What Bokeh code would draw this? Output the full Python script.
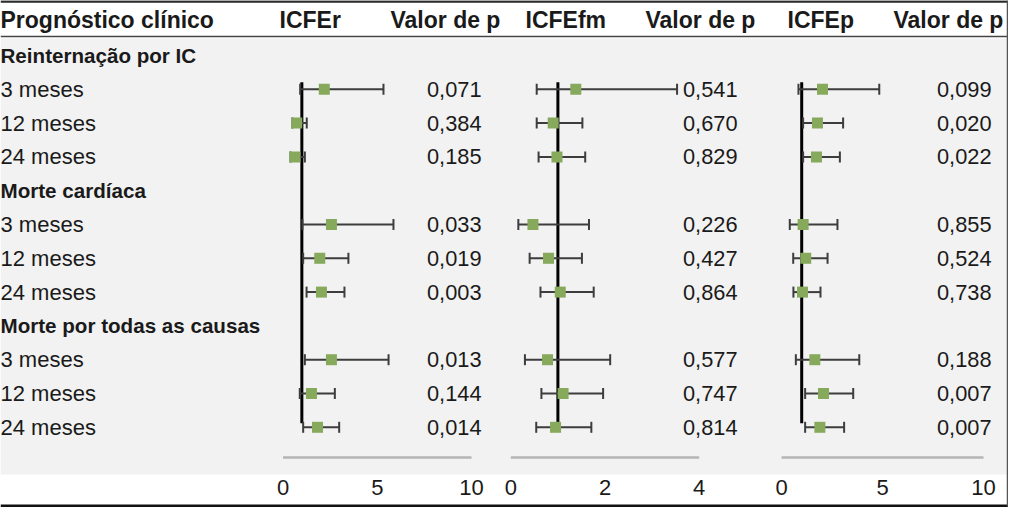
from bokeh.plotting import figure
from bokeh.models import Range1d, ColumnDataSource
from bokeh.embed import file_html
from bokeh.resources import INLINE
from bokeh.core.properties import value

# ---------------- data ----------------
header_label = "Prognóstico clínico"
pvalue_header = "Valor de p"
groups = ["Reinternação por IC", "Morte cardíaca", "Morte por todas as causas"]
periods = ["3 meses", "12 meses", "24 meses"]

panel_names = ["ICFEr", "ICFEfm", "ICFEp"]

icfer_est = [2.19, 0.73, 0.63, 2.57, 1.95, 2.04, 2.57, 1.51, 1.83]
icfer_low = [0.91, 0.50, 0.40, 1.03, 1.07, 1.25, 1.16, 0.89, 1.07]
icfer_high = [5.33, 1.26, 1.16, 5.86, 3.47, 3.26, 5.60, 2.75, 2.98]
icfer_p = ["0,071", "0,384", "0,185", "0,033", "0,019", "0,003", "0,013", "0,144", "0,014"]
icfer_ticks = [0, 5, 10]

icfefm_est = [1.38, 0.90, 0.98, 0.47, 0.80, 1.05, 0.78, 1.11, 0.95]
icfefm_low = [0.55, 0.55, 0.59, 0.16, 0.40, 0.63, 0.30, 0.65, 0.54]
icfefm_high = [3.53, 1.52, 1.58, 1.66, 1.51, 1.76, 2.11, 1.96, 1.71]
icfefm_p = ["0,541", "0,670", "0,829", "0,226", "0,427", "0,864", "0,577", "0,747", "0,814"]
icfefm_ticks = [0, 2, 4]

icfep_est = [2.03, 1.78, 1.73, 1.07, 1.20, 1.04, 1.65, 2.08, 1.90]
icfep_low = [0.84, 1.07, 1.07, 0.41, 0.58, 0.59, 0.71, 1.17, 1.17]
icfep_high = [4.84, 3.05, 2.89, 2.77, 2.28, 1.93, 3.85, 3.55, 3.10]
icfep_p = ["0,099", "0,020", "0,022", "0,855", "0,524", "0,738", "0,188", "0,007", "0,007"]
icfep_ticks = [0, 5, 10]

null_value = 1

# ---------------- layout / style ----------------
FONT = "Liberation Sans"
GREEN = "#86a95c"
WHISKER = "#3d3d3d"
TEXT = "#1a1a1a"
W, H = 1008, 507
X0, X1 = 8, 1016          # page-pixel coordinates of the figure
Y_TOP, Y_BOT = 8, 515

ROW0 = 63.0
ROW_H = 33.8
HEADER_Y = 27
TICK_Y = 495
AXLINE_Y = 465

HEAD_FS = "23px"
GROUP_FS = "20.6px"
ROW_FS = "22px"
PV_FS = "21.8px"
TICK_FS = "22px"

p = figure(width=W, height=H, output_backend="svg", toolbar_location=None,
           x_range=Range1d(X0, X1), y_range=Range1d(Y_BOT, Y_TOP),
           min_border=0, min_border_left=0, min_border_right=0,
           min_border_top=0, min_border_bottom=0)
p.xaxis.visible = False
p.yaxis.visible = False
p.grid.visible = False
p.outline_line_color = None
p.background_fill_color = "white"
p.border_fill_color = "white"

# light grey body background
p.quad(left=[X0], right=[1015], top=[46], bottom=[482], fill_color="#f2f2f2", line_color=None)

# rules
p.segment(x0=[X0], x1=[1016], y0=[9], y1=[9], line_color="#2a2a2a", line_width=2.4)
p.segment(x0=[X0], x1=[1016], y0=[44], y1=[44], line_color="#444444", line_width=1.6)
p.segment(x0=[X0], x1=[1016], y0=[513.5], y1=[513.5], line_color="#111111", line_width=2.8)
p.segment(x0=[1015], x1=[1015], y0=[8], y1=[514], line_color="#555555", line_width=1.5)

# row positions
item_y = []
group_y = []
for g in range(len(groups)):
    group_y.append(ROW0 + ROW_H * (g * 4))
    for j in range(len(periods)):
        item_y.append(ROW0 + ROW_H * (g * 4 + 1 + j))

item_labels = [per for g in groups for per in periods]

# header texts
p.text(x=[X0], y=[HEADER_Y], text=[header_label], text_font=value(FONT),
       text_font_size=HEAD_FS, text_font_style="bold", text_baseline="middle",
       text_align="left", text_color=TEXT)
p.text(x=[X0] * len(groups), y=group_y, text=groups, text_font=value(FONT),
       text_font_size=GROUP_FS, text_font_style="bold", text_baseline="middle",
       text_align="left", text_color=TEXT)
p.text(x=[X0] * len(item_labels), y=item_y, text=item_labels, text_font=value(FONT),
       text_font_size=ROW_FS, text_baseline="middle", text_align="left",
       text_color=TEXT)

panels = [
    dict(name="r", title=panel_names[0], est=icfer_est, low=icfer_low, high=icfer_high,
         pv=icfer_p, ticks=icfer_ticks, zero=290.5, unit=18.85, p_right=489,
         title_x=287, ptitle_x=398),
    dict(name="fm", title=panel_names[1], est=icfefm_est, low=icfefm_low, high=icfefm_high,
         pv=icfefm_p, ticks=icfefm_ticks, zero=518.3, unit=47.1, p_right=745,
         title_x=533, ptitle_x=653),
    dict(name="p", title=panel_names[2], est=icfep_est, low=icfep_low, high=icfep_high,
         pv=icfep_p, ticks=icfep_ticks, zero=789.0, unit=20.2, p_right=999,
         title_x=795, ptitle_x=901),
]

for pn in panels:
    z, u = pn["zero"], pn["unit"]
    p.extra_x_ranges[pn["name"]] = Range1d((X0 - z) / u, (X1 - z) / u)

for pn in panels:
    rn = pn["name"]
    src = ColumnDataSource(dict(est=pn["est"], low=pn["low"], high=pn["high"], y=item_y,
                                yt=[v - 5.5 for v in item_y], yb=[v + 5.5 for v in item_y]))
    # titles
    p.text(x=[pn["title_x"]], y=[HEADER_Y], text=[pn["title"]], text_font=value(FONT),
           text_font_size=HEAD_FS, text_font_style="bold", text_baseline="middle",
           text_align="left", text_color=TEXT)
    p.text(x=[pn["ptitle_x"]], y=[HEADER_Y], text=[pvalue_header], text_font=value(FONT),
           text_font_size=HEAD_FS, text_font_style="bold", text_baseline="middle",
           text_align="left", text_color=TEXT)
    # null line
    p.segment(x0=[null_value], x1=[null_value], y0=[item_y[0] - 7], y1=[item_y[-1] - 4],
              line_color="black", line_width=3, x_range_name=rn)
    # whiskers
    p.segment(x0="low", x1="high", y0="y", y1="y", source=src, line_color=WHISKER,
              line_width=2, x_range_name=rn)
    p.segment(x0="low", x1="low", y0="yt", y1="yb", source=src, line_color=WHISKER,
              line_width=2, x_range_name=rn)
    p.segment(x0="high", x1="high", y0="yt", y1="yb", source=src, line_color=WHISKER,
              line_width=2, x_range_name=rn)
    p.scatter(x="est", y="y", source=src, marker="square", size=11, fill_color=GREEN,
              line_color=None, x_range_name=rn)
    # p values
    p.text(x=[pn["p_right"]] * len(pn["pv"]), y=item_y, text=pn["pv"], text_font=value(FONT),
           text_font_size=PV_FS, text_baseline="middle", text_align="right",
           text_color=TEXT)
    # axis baseline and tick labels
    t = pn["ticks"]
    p.segment(x0=[t[0]], x1=[t[-1]], y0=[AXLINE_Y], y1=[AXLINE_Y], line_color="#b5b5b5",
              line_width=2.5, x_range_name=rn)
    p.text(x=t, y=[TICK_Y] * len(t), text=[str(v) for v in t], text_font=value(FONT),
           text_font_size=TICK_FS, text_baseline="middle", text_align="center",
           text_color=TEXT, x_range_name=rn)

open("out.html", "w").write(file_html(p, INLINE))
